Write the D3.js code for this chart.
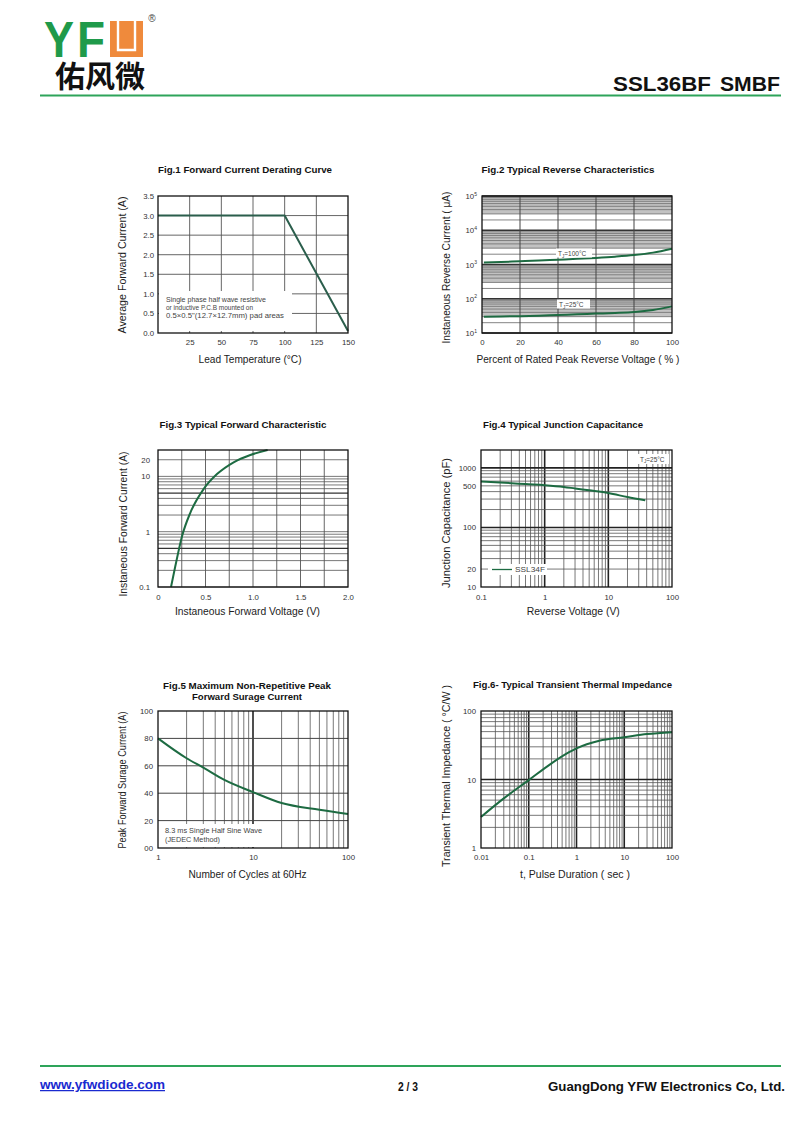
<!DOCTYPE html>
<html><head><meta charset="utf-8">
<script src="https://cdn.jsdelivr.net/npm/d3@7"></script>
<style>body{margin:0;background:#fff}svg{display:block}</style>
</head><body>
<svg id="page" width="800" height="1126"></svg>
<script>
// ---------------- DATA ----------------
// Fig.1 Forward Current Derating Curve
const f1Temp = [0, 100, 150];
const f1Amp = [3.0, 3.0, 0.05];
const f1XTicks = [25, 50, 75, 100, 125, 150];
const f1YTicks = [0, 0.5, 1.0, 1.5, 2.0, 2.5, 3.0, 3.5];
// Fig.2 Typical Reverse Characteristics
const f2Pct = [1, 10, 20, 30, 40, 50, 60, 70, 80, 90, 100];
const f2Hot = [1140, 1180, 1240, 1300, 1380, 1460, 1560, 1690, 1880, 2220, 2900];
const f2Cold = [30, 30.5, 31, 32, 33.6, 35, 36.8, 38.5, 41, 47, 60];
const f2XTicks = [0, 20, 40, 60, 80, 100];
const f2YTicks = [10, 100, 1000, 10000, 100000];
// Fig.3 Typical Forward Characteristic
const f3Volt = [0.137, 0.182, 0.253, 0.34, 0.48, 0.621, 0.796, 0.972, 1.154];
const f3Amp = [0.1, 0.237, 0.83, 2.2, 5.9, 11, 18, 24.4, 30];
const f3XTicks = [0, 0.5, 1.0, 1.5, 2.0];
const f3YTicks = [0.1, 1, 10, 20];
// Fig.4 Typical Junction Capacitance
const f4Volt = [0.1, 0.2, 0.3, 0.5, 1, 2, 3, 5, 10, 20, 38];
const f4Cap = [591, 569, 555, 535, 513, 480, 452, 420, 378, 324, 285];
const f4XTicks = [0.1, 1, 10, 100];
const f4YTicks = [10, 20, 100, 500, 1000];
// Fig.5 Maximum Non-Repetitive Peak Forward Surge Current
const f5Cycles = [1, 2, 3, 5, 10, 20, 50, 100];
const f5Amp = [80, 65.5, 58.7, 49.7, 40.8, 32.8, 27.9, 24.8];
const f5XTicks = [1, 10, 100];
const f5YTicks = [0, 20, 40, 60, 80, 100];
// Fig.6 Typical Transient Thermal Impedance
const f6Time = [0.01, 0.03, 0.1, 0.3, 0.7, 1, 3, 10, 30, 100];
const f6Imp = [2.84, 5.3, 9.8, 17.2, 25, 28.5, 36.9, 41.3, 46, 49];
const f6XTicks = [0.01, 0.1, 1, 10, 100];
const f6YTicks = [1, 10, 100];

// ---------------- HELPERS ----------------
const svg = d3.select('#page');
const FONT = '"Liberation Sans", Arial, Helvetica, sans-serif';
const GREEN = '#1d6b42';

function logGrid(lo, hi) {
  const out = [];
  for (let k = Math.floor(Math.log10(lo)); k <= Math.ceil(Math.log10(hi)); k++) {
    for (let m = 1; m <= 9; m++) {
      const v = m * Math.pow(10, k);
      if (v >= lo * 0.9999 && v <= hi * 1.0001) out.push(v);
    }
  }
  return out;
}
function isDecade(v) { const l = Math.log10(v); return Math.abs(l - Math.round(l)) < 1e-6; }

function vlines(g, vals, sx, sy, styleFn) {
  const [y0, y1] = sy.range();
  g.selectAll(null).data(vals).join('line')
    .attr('x1', d => sx(d)).attr('x2', d => sx(d))
    .attr('y1', y0).attr('y2', y1)
    .each(function (d) { const s = styleFn(d); d3.select(this).attr('stroke', s[0]).attr('stroke-width', s[1]); });
}
function hlines(g, vals, sx, sy, styleFn) {
  const [x0, x1] = sx.range();
  g.selectAll(null).data(vals).join('line')
    .attr('y1', d => sy(d)).attr('y2', d => sy(d))
    .attr('x1', x0).attr('x2', x1)
    .each(function (d) { const s = styleFn(d); d3.select(this).attr('stroke', s[0]).attr('stroke-width', s[1]); });
}
function border(g, sx, sy) {
  const [x0, x1] = sx.range(), [y0, y1] = sy.range();
  g.append('rect').attr('x', x0).attr('y', y1).attr('width', x1 - x0).attr('height', y0 - y1)
    .attr('fill', 'none').attr('stroke', '#111').attr('stroke-width', 1.3);
}
function txt(g, x, y, s, o = {}) {
  const t = g.append('text').attr('x', x).attr('y', y).text(s)
    .attr('font-family', FONT).attr('font-size', o.size || 9.5)
    .attr('fill', o.fill || '#222').attr('text-anchor', o.anchor || 'middle');
  if (o.weight) t.attr('font-weight', o.weight);
  if (o.rotate) t.attr('transform', `rotate(-90,${x},${y})`);
  if (o.len) t.attr('textLength', o.len).attr('lengthAdjust', 'spacingAndGlyphs');
  return t;
}
function title(g, x, y, s, len) { return txt(g, x, y, s, { size: 9.5, weight: 700, fill: '#111', len }); }
function xLabel(g, x, y, s, len) { return txt(g, x, y, s, { size: 10, fill: '#222', len }); }
function yLabel(g, x, y, s, len) { return txt(g, x, y, s, { size: 10, fill: '#222', len, rotate: true }); }
function note(g, x, y, s, len) { return txt(g, x, y, s, { size: 6.8, anchor: 'start', fill: '#444', len }); }
function styleAxis(a) {
  a.select('.domain').remove();
  a.selectAll('text').attr('font-family', FONT).attr('font-size', 7.8).attr('fill', '#333');
}
function xAxis(g, sx, sy, ticks, fmt, pad) {
  const a = g.append('g').attr('transform', `translate(0,${sy.range()[0]})`)
    .call(d3.axisBottom(sx).tickValues(ticks).tickSize(0).tickPadding(pad || 6).tickFormat(fmt));
  styleAxis(a); return a;
}
function yAxis(g, sx, sy, ticks, fmt, pad) {
  const a = g.append('g').attr('transform', `translate(${sx.range()[0]},0)`)
    .call(d3.axisLeft(sy).tickValues(ticks).tickSize(0).tickPadding(pad || 4).tickFormat(fmt));
  styleAxis(a); return a;
}
function curve(g, xs, ys, sx, sy, color, w, c) {
  const pts = xs.map((x, i) => [x, ys[i]]);
  g.append('path').datum(pts)
    .attr('d', d3.line().x(d => sx(d[0])).y(d => sy(d[1])).curve(c || d3.curveMonotoneX))
    .attr('fill', 'none').attr('stroke', color).attr('stroke-width', w).attr('stroke-linejoin', 'round');
}
function tjLabel(g, x, y, rest, len) {
  const l = txt(g, x, y, 'T', { size: 6.5, anchor: 'start', fill: '#444' });
  l.append('tspan').text('J').attr('font-size', 4.5).attr('dy', 1.5);
  l.append('tspan').text(rest).attr('dy', -1.5);
  return l;
}
const minorLog = d => isDecade(d) ? ['#222', 1.6] : ['#555', 0.8];

// ---------------- HEADER ----------------
const hdr = svg.append('g');
hdr.append('text').attr('x', 44).attr('y', 57).text('Y').attr('font-family', FONT).attr('font-weight', 700)
  .attr('font-size', 50).attr('fill', '#1f9a4a').attr('textLength', 30).attr('lengthAdjust', 'spacingAndGlyphs');
hdr.append('text').attr('x', 77).attr('y', 57).text('F').attr('font-family', FONT).attr('font-weight', 700)
  .attr('font-size', 50).attr('fill', '#1f9a4a').attr('textLength', 28).attr('lengthAdjust', 'spacingAndGlyphs');
hdr.append('rect').attr('x', 110).attr('y', 21).attr('width', 33).attr('height', 36).attr('fill', '#ef8a3c');
hdr.append('path').attr('d', 'M118,21 V50 H135 V21').attr('fill', 'none').attr('stroke', '#fff').attr('stroke-width', 2.4);
txt(hdr, 152, 22, '®', { size: 10, fill: '#444' });
hdr.append('text').attr('x', 55).attr('y', 87).text('佑风微').attr('font-family', '"Noto Sans CJK SC", sans-serif')
  .attr('font-weight', 700).attr('font-size', 30).attr('fill', '#111').attr('textLength', 90).attr('lengthAdjust', 'spacingAndGlyphs');
txt(hdr, 613, 91, 'SSL36BF', { size: 21, weight: 700, anchor: 'start', fill: '#111', len: 98 });
txt(hdr, 720, 91, 'SMBF', { size: 21, weight: 700, anchor: 'start', fill: '#111', len: 60 });
hdr.append('line').attr('x1', 40).attr('x2', 781).attr('y1', 95.5).attr('y2', 95.5).attr('stroke', '#2ea45a').attr('stroke-width', 2);

// ---------------- FIG 1 ----------------
{
  const g = svg.append('g');
  const sx = d3.scaleLinear([0, 150], [158, 348]);
  const sy = d3.scaleLinear([0, 3.5], [333, 196]);
  vlines(g, [25, 50, 75, 100, 125], sx, sy, () => ['#555', 0.9]);
  hlines(g, [0.5, 1, 1.5, 2, 2.5, 3], sx, sy, () => ['#555', 0.9]);
  g.append('rect').attr('x', 159).attr('y', 291).attr('width', 133).attr('height', 40).attr('fill', '#fff');
  note(g, 166, 302, 'Single phase half wave resistive', 100);
  note(g, 166, 310, 'or inductive P.C.B mounted on', 87);
  note(g, 166, 318, '0.5×0.5"(12.7×12.7mm) pad  areas', 118);
  curve(g, f1Temp, f1Amp, sx, sy, '#2b5e4c', 2, d3.curveLinear);
  border(g, sx, sy);
  xAxis(g, sx, sy, f1XTicks, d => d, 6);
  yAxis(g, sx, sy, f1YTicks, d3.format('.1f'), 4);
  title(g, 245, 173, 'Fig.1  Forward Current Derating Curve', 174);
  xLabel(g, 250, 363, 'Lead Temperature (°C)', 103);
  yLabel(g, 126, 265, 'Average Forward Current (A)', 137);
}

// ---------------- FIG 2 ----------------
{
  const g = svg.append('g');
  const sx = d3.scaleLinear([0, 100], [482, 672]);
  const sy = d3.scaleLog([10, 1e5], [333, 196]);
  [10, 100, 1000, 10000].forEach(k => {
    g.append('rect').attr('x', 482).attr('width', 190)
      .attr('y', sy(10 * k)).attr('height', sy(3 * k) - sy(10 * k)).attr('fill', '#c2c2c2');
  });
  hlines(g, logGrid(10, 1e5), sx, sy, d => isDecade(d) ? ['#333', 1.6] : ['#777', 0.9]);
  vlines(g, [20, 40, 60, 80], sx, sy, () => ['#444', 1]);
  curve(g, f2Pct, f2Hot, sx, sy, GREEN, 2);
  curve(g, f2Pct, f2Cold, sx, sy, GREEN, 2);
  g.append('rect').attr('x', 556).attr('y', 248.5).attr('width', 36).attr('height', 9).attr('fill', '#fff');
  g.append('rect').attr('x', 557).attr('y', 299.5).attr('width', 33).attr('height', 9).attr('fill', '#fff');
  tjLabel(g, 558, 256, '=100°C');
  tjLabel(g, 559, 307, '=25°C');
  border(g, sx, sy);
  xAxis(g, sx, sy, f2XTicks, d => d, 6);
  const ya = yAxis(g, sx, sy, f2YTicks, () => '', 5);
  ya.selectAll('.tick text').each(function (d) {
    const t = d3.select(this).text('10');
    t.append('tspan').text(Math.round(Math.log10(d))).attr('font-size', 5).attr('dy', -3.5);
  });
  title(g, 568, 173, 'Fig.2  Typical Reverse Characteristics', 173);
  xLabel(g, 578, 363, 'Percent of Rated Peak Reverse Voltage ( % )', 203);
  yLabel(g, 450, 267.5, 'Instaneous Reverse Current ( μA)', 152);
}

// ---------------- FIG 3 ----------------
{
  const g = svg.append('g');
  const sx = d3.scaleLinear([0, 2], [158, 348]);
  const sy = d3.scaleLog([0.1, 30], [587, 450]);
  vlines(g, [0.25, 0.5, 0.75, 1, 1.25, 1.5, 1.75], sx, sy, () => ['#555', 0.9]);
  hlines(g, logGrid(0.1, 30).filter(d => d < 29), sx, sy, d => (Math.abs(d - 5) < 1e-9 || Math.abs(d - 0.5) < 1e-9) ? ['#333', 1.3] : ['#555', 0.8]);
  curve(g, f3Volt, f3Amp, sx, sy, GREEN, 2);
  border(g, sx, sy);
  xAxis(g, sx, sy, f3XTicks, d => d === 0 ? '0' : d3.format('.1f')(d), 7);
  yAxis(g, sx, sy, f3YTicks, d => d, 8);
  title(g, 243, 427.5, 'Fig.3  Typical Forward Characteristic', 167);
  xLabel(g, 247.5, 615, 'Instaneous Forward Voltage (V)', 145);
  yLabel(g, 126.5, 524, 'Instaneous Forward Current  (A)', 145);
}

// ---------------- FIG 4 ----------------
{
  const g = svg.append('g');
  const sx = d3.scaleLog([0.1, 100], [481, 672]);
  const sy = d3.scaleLog([10, 2000], [587, 450]);
  vlines(g, logGrid(0.1, 100).filter(d => d > 0.1 && d < 100), sx, sy, minorLog);
  hlines(g, logGrid(10, 2000).filter(d => d > 10 && d < 2000), sx, sy, minorLog);
  g.append('rect').attr('x', 488).attr('y', 564).attr('width', 59).attr('height', 11).attr('fill', '#fff');
  g.append('rect').attr('x', 637).attr('y', 454).attr('width', 32).attr('height', 10).attr('fill', '#fff');
  g.append('line').attr('x1', 492).attr('x2', 512).attr('y1', 569.5).attr('y2', 569.5).attr('stroke', GREEN).attr('stroke-width', 1.3);
  note(g, 515, 572, 'SSL34F', 30);
  tjLabel(g, 640, 461.5, '=25°C');
  curve(g, f4Volt, f4Cap, sx, sy, GREEN, 2);
  border(g, sx, sy);
  xAxis(g, sx, sy, f4XTicks, d => d, 7);
  yAxis(g, sx, sy, f4YTicks, d => d, 5);
  title(g, 563, 427.5, 'Fig.4  Typical Junction Capacitance', 160);
  xLabel(g, 573.3, 615, 'Reverse  Voltage (V)', 93);
  yLabel(g, 450, 523, 'Junction Capacitance (pF)', 130);
}

// ---------------- FIG 5 ----------------
{
  const g = svg.append('g');
  const sx = d3.scaleLog([1, 100], [158, 348]);
  const sy = d3.scaleLinear([0, 100], [848, 711]);
  vlines(g, logGrid(1, 100).filter(d => d > 1 && d < 100), sx, sy, minorLog);
  hlines(g, [20, 40, 60, 80], sx, sy, () => ['#444', 1]);
  g.append('rect').attr('x', 159).attr('y', 824).attr('width', 104).attr('height', 23).attr('fill', '#fff');
  note(g, 165, 833, '8.3 ms Single Half Sine Wave', 97);
  note(g, 165, 842, '(JEDEC Method)', 55);
  curve(g, f5Cycles, f5Amp, sx, sy, GREEN, 2);
  border(g, sx, sy);
  xAxis(g, sx, sy, f5XTicks, d => d, 6);
  yAxis(g, sx, sy, f5YTicks, d => d === 0 ? '00' : d, 5);
  title(g, 247, 689, 'Fig.5  Maximum Non-Repetitive Peak', 168);
  title(g, 247, 700, 'Forward Surage Current', 110);
  xLabel(g, 247.5, 878, 'Number of Cycles at 60Hz', 118);
  yLabel(g, 126, 780, 'Peak Forward Surage Current (A)', 137);
}

// ---------------- FIG 6 ----------------
{
  const g = svg.append('g');
  const sx = d3.scaleLog([0.01, 100], [481, 672]);
  const sy = d3.scaleLog([1, 100], [848, 711]);
  vlines(g, logGrid(0.01, 100).filter(d => d > 0.01 && d < 100), sx, sy, minorLog);
  hlines(g, logGrid(1, 100).filter(d => d > 1 && d < 100), sx, sy, minorLog);
  curve(g, f6Time, f6Imp, sx, sy, GREEN, 2);
  border(g, sx, sy);
  xAxis(g, sx, sy, f6XTicks, d => d, 6);
  yAxis(g, sx, sy, f6YTicks, d => d, 5);
  title(g, 572.5, 688, 'Fig.6- Typical Transient Thermal Impedance', 199);
  xLabel(g, 575, 878, 't, Pulse Duration ( sec )', 110);
  yLabel(g, 450, 776, 'Transient Thermal Impedance ( °C/W )', 182);
}

// ---------------- FOOTER ----------------
const ft = svg.append('g');
ft.append('line').attr('x1', 40).attr('x2', 781).attr('y1', 1066).attr('y2', 1066).attr('stroke', '#2ea45a').attr('stroke-width', 2);
txt(ft, 40, 1089, 'www.yfwdiode.com', { size: 12.5, anchor: 'start', fill: '#1a2ad0', weight: 700, len: 125 }).attr('text-decoration', 'underline');
txt(ft, 408, 1091, '2 / 3', { size: 12, weight: 700, fill: '#111', len: 20 });
txt(ft, 785, 1091, 'GuangDong YFW Electronics Co, Ltd.', { size: 12.5, anchor: 'end', weight: 700, fill: '#111', len: 237 });
</script>
</body></html>
